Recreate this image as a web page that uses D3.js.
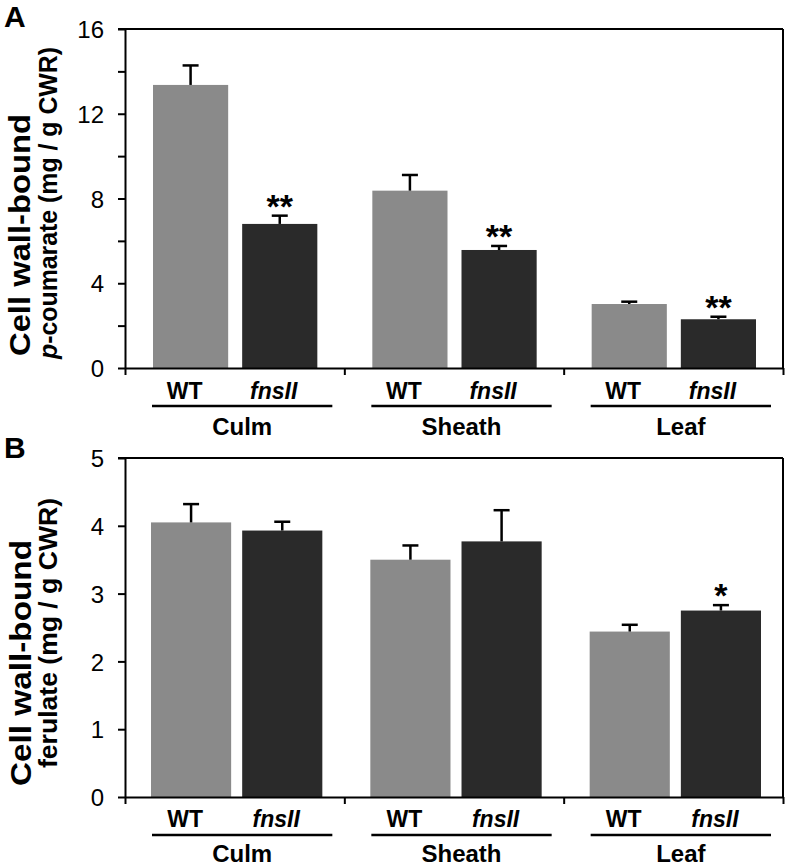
<!DOCTYPE html>
<html><head><meta charset="utf-8">
<script src="https://cdn.jsdelivr.net/npm/d3@7"></script>
<style>body{margin:0;background:#fff}svg{display:block;font-family:"Liberation Sans",Arial,sans-serif}</style>
</head><body><svg id="c" width="789" height="867"></svg>
<script>
const tissues = ["Culm","Sheath","Leaf"];
const genotypes = ["WT","fnsII"];
// Panel A: p-coumarate (mg / g CWR)
const coumWT = [13.36, 8.37, 3.02];
const coumWTErr = [0.92, 0.74, 0.11];
const coumFns = [6.80, 5.57, 2.30];
const coumFnsErr = [0.39, 0.19, 0.12];
const coumSig = ["**","**","**"];
// Panel B: ferulate (mg / g CWR)
const ferWT = [4.05, 3.50, 2.44];
const ferWTErr = [0.27, 0.21, 0.10];
const ferFns = [3.93, 3.77, 2.75];
const ferFnsErr = [0.13, 0.46, 0.08];
const ferSig = ["","","*"];
const ticksA = [0,2,4,6,8,10,12,14,16];
const labelsA = [0,4,8,12,16];
const ticksB = [0,1,2,3,4,5];

const svg = d3.select("#c");
const colors = {WT:"#8a8a8a", fnsII:"#2a2a2a"};

function panel(o){
  const g = svg.append("g");
  const x0 = d3.scaleBand().domain(tissues).range([125,783]).paddingInner(0).paddingOuter(0);
  const x1 = d3.scaleBand().domain(genotypes).range([o.inL, x0.bandwidth()-o.inR]).paddingInner(o.gap);
  const y = d3.scaleLinear().domain([0,o.max]).range([o.y0,o.y1]);
  const data = [];
  tissues.forEach((t,i)=>{
    data.push({t, gt:"WT", v:o.wt[i], e:o.wtE[i], s:""});
    data.push({t, gt:"fnsII", v:o.fn[i], e:o.fnE[i], s:o.sig[i]});
  });
  g.selectAll("rect.bar").data(data).join("rect")
    .attr("x", d=>x0(d.t)+x1(d.gt)).attr("width", x1.bandwidth())
    .attr("y", d=>y(d.v)).attr("height", d=>y(0)-y(d.v))
    .attr("fill", d=>colors[d.gt]);
  const cx = d=>x0(d.t)+x1(d.gt)+x1.bandwidth()/2;
  g.selectAll("line.err").data(data).join("line")
    .attr("x1",cx).attr("x2",cx).attr("y1",d=>y(d.v)).attr("y2",d=>y(d.v+d.e))
    .attr("stroke","#000").attr("stroke-width",2.5);
  g.selectAll("line.cap").data(data).join("line")
    .attr("x1",d=>cx(d)-8).attr("x2",d=>cx(d)+8).attr("y1",d=>y(d.v+d.e)).attr("y2",d=>y(d.v+d.e))
    .attr("stroke","#000").attr("stroke-width",2.5);
  g.selectAll("text.sig").data(data.filter(d=>d.s)).join("text")
    .attr("x",cx).attr("y",d=>y(d.v+d.e)+o.sigDy).attr("text-anchor","middle")
    .attr("font-size",34).attr("font-weight","bold").text(d=>d.s);
  g.append("line").attr("x1",118).attr("x2",783).attr("y1",y(o.max)).attr("y2",y(o.max)).attr("stroke","#000").attr("stroke-width",2);
  g.append("line").attr("x1",783).attr("x2",783).attr("y1",y(o.max)).attr("y2",y(0)).attr("stroke","#000").attr("stroke-width",2);
  const ax = d3.axisLeft(y).tickValues(o.ticks).tickSize(7).tickSizeOuter(0)
    .tickFormat(d=>o.labels.includes(d)?d:"");
  const ga = g.append("g").attr("transform","translate(125,0)").call(ax);
  ga.select(".domain").attr("stroke-width",2);
  ga.selectAll(".tick line").attr("stroke-width",2);
  ga.selectAll(".tick text").attr("font-size",24).attr("font-family","Liberation Sans, Arial, sans-serif").attr("fill","#000").attr("x",-21).attr("dy","0.36em");
  const bx = d3.scaleLinear().domain([0,3]).range([125,783]);
  const gb = g.append("g").attr("transform",`translate(0,${y(0)})`).call(d3.axisBottom(bx).tickValues([0,1,2,3]).tickSize(7).tickSizeOuter(0).tickFormat(""));
  gb.select(".domain").attr("stroke-width",2);
  gb.selectAll(".tick line").attr("stroke-width",2);
  g.selectAll("text.gt").data(data).join("text")
    .attr("x",d=>cx(d)-6).attr("y",y(0)+o.lab1).attr("text-anchor","middle")
    .attr("font-size",23).attr("font-weight","bold")
    .attr("font-style",d=>d.gt==="fnsII"?"italic":"normal").text(d=>d.gt);
  tissues.forEach(t=>{
    const a = x0(t)+27, b = x0(t)+x0.bandwidth()-12;
    g.append("line").attr("x1",a).attr("x2",b).attr("y1",y(0)+o.ul).attr("y2",y(0)+o.ul).attr("stroke","#000").attr("stroke-width",2.5);
    g.append("text").attr("x",(a+b)/2).attr("y",y(0)+o.lab2).attr("text-anchor","middle")
      .attr("font-size",24).attr("font-weight","bold").text(t);
  });
  g.append("text").attr("transform",`translate(${o.tx1},${o.c1}) rotate(-90)`).attr("text-anchor","middle")
    .attr("font-size",30).attr("font-weight","bold")
    .attr("textLength",o.len1).attr("lengthAdjust","spacingAndGlyphs").text("Cell wall-bound");
  const t2 = g.append("text").attr("transform",`translate(${o.tx2},${o.c2}) rotate(-90)`).attr("text-anchor","middle")
    .attr("font-size",25).attr("font-weight","bold")
    .attr("textLength",o.len2).attr("lengthAdjust","spacingAndGlyphs");
  o.title2(t2);
  g.append("text").attr("x",4).attr("y",o.letterY).attr("font-size",30).attr("font-weight","bold").text(o.letter);
}

panel({max:16, y0:368, y1:29, wt:coumWT, wtE:coumWTErr, fn:coumFns, fnE:coumFnsErr, sig:coumSig,
  ticks:ticksA, labels:labelsA, inL:28, inR:27, gap:0.157, sigDy:2,
  lab1:31, ul:38, lab2:67, tx1:30, tx2:57, c1:235, len1:242, c2:203, len2:312, letter:"A", letterY:27,
  title2:t=>{t.append("tspan").attr("font-style","italic").text("p");t.append("tspan").text("-coumarate (mg / g CWR)");}});
panel({max:5, y0:797, y1:458, wt:ferWT, wtE:ferWTErr, fn:ferFns, fnE:ferFnsErr, sig:ferSig,
  ticks:ticksB, labels:ticksB, inL:26, inR:22, gap:0.121, sigDy:2,
  lab1:30, ul:38, lab2:65, tx1:31, tx2:57, c1:663, len1:246, c2:633, len2:270, letter:"B", letterY:458,
  title2:t=>{t.text("ferulate (mg / g CWR)");}});
</script></body></html>
